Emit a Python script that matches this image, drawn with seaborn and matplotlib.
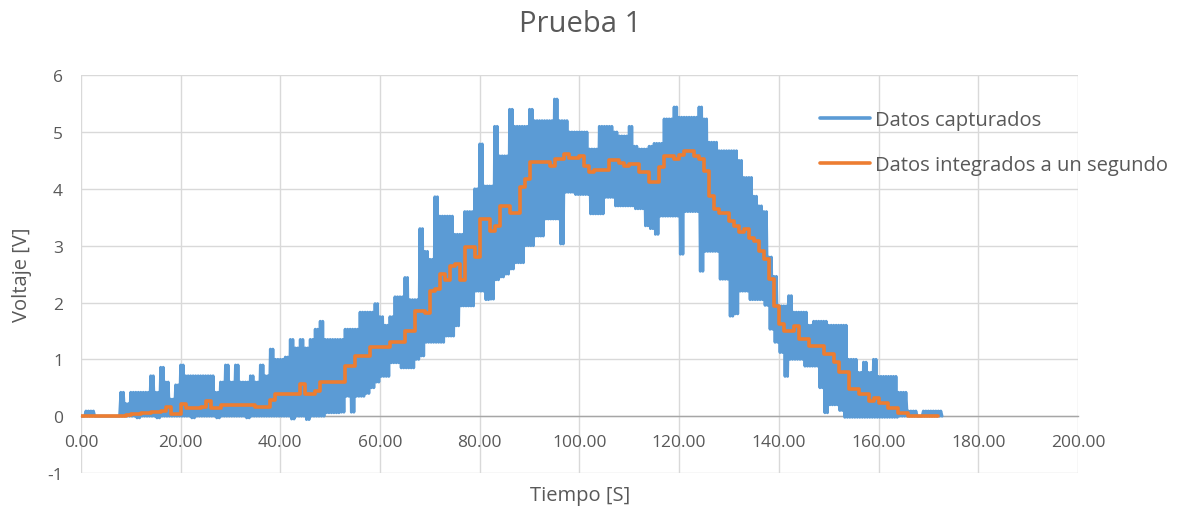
import numpy as np
import pandas as pd
import matplotlib.pyplot as plt
import seaborn as sns

# %% Data (one value per second, t = 0 .. 172)
# upper / lower extent of the captured signal in each second
blue_hi = [0.0, 0.09, 0.09, 0.0, 0.0, 0.0, 0.0, 0.0, 0.42, 0.22,
           0.42, 0.42, 0.42, 0.42, 0.71, 0.42, 0.86, 0.6, 0.3, 0.55,
           0.9, 0.71, 0.71, 0.71, 0.71, 0.71, 0.71, 0.42, 0.6, 0.9,
           0.6, 0.9, 0.6, 0.6, 0.71, 0.6, 0.9, 0.71, 1.18, 1.0,
           1.0, 1.04, 1.35, 1.2, 1.35, 1.2, 1.35, 1.53, 1.67, 1.35,
           1.35, 1.35, 1.35, 1.53, 1.53, 1.53, 1.83, 1.83, 1.83, 1.98,
           1.75, 1.6, 1.75, 2.1, 2.1, 2.44, 2.05, 2.05, 3.3, 2.9,
           2.76, 3.86, 3.52, 3.52, 3.52, 3.2, 3.2, 3.6, 3.6, 4.0,
           4.79, 4.05, 4.05, 5.1, 4.58, 4.58, 5.4, 5.1, 5.1, 5.1,
           5.4, 5.2, 5.2, 5.2, 5.2, 5.58, 5.2, 5.2, 5.0, 5.0,
           5.0, 5.0, 4.7, 4.7, 5.1, 5.1, 5.1, 5.0, 4.93, 4.93,
           5.1, 4.75, 4.7, 4.7, 4.75, 4.8, 4.8, 5.23, 5.23, 5.44,
           5.26, 5.26, 5.26, 5.26, 5.44, 5.23, 4.82, 4.82, 4.67, 4.67,
           4.67, 4.67, 4.5, 4.2, 4.2, 3.87, 3.7, 3.6, 2.8, 2.46,
           1.94, 1.94, 2.12, 1.83, 1.83, 1.83, 1.6, 1.67, 1.67, 1.67,
           1.6, 1.6, 1.6, 1.6, 1.0, 1.0, 0.77, 0.95, 0.77, 1.0,
           0.7, 0.7, 0.7, 0.7, 0.42, 0.42, 0.09, 0.09, 0.0, 0.09,
           0.09, 0.09, 0.09]
blue_lo = [0, 0, 0, 0, 0, 0, 0, 0, 0, 0,
           0, -0.03, 0, 0, 0, -0.03, 0, 0, 0, 0,
           0, 0, -0.03, 0, 0, 0, 0, -0.03, 0, 0,
           0, 0, 0, -0.03, 0, 0, 0, 0, 0, 0,
           0, 0, -0.05, 0, 0, -0.06, 0, 0, 0, 0.06,
           0.06, 0.06, 0.07, 0.35, 0.07, 0.35, 0.35, 0.4, 0.5, 0.6,
           0.7, 0.7, 0.94, 0.94, 0.85, 0.85, 0.85, 1.0, 1.06, 1.3,
           1.3, 1.3, 1.3, 1.41, 1.41, 1.59, 1.94, 1.94, 1.94, 2.2,
           2.2, 2.05, 2.06, 2.4, 2.45, 2.5, 2.59, 2.7, 2.7, 3.0,
           3.0, 3.17, 3.17, 3.47, 3.47, 3.47, 3.03, 3.94, 3.94, 3.9,
           3.9, 3.9, 3.56, 3.56, 3.56, 3.85, 3.85, 3.7, 3.7, 3.7,
           3.7, 3.65, 3.65, 3.35, 3.3, 3.2, 3.52, 3.52, 3.52, 3.52,
           2.85, 3.6, 3.6, 3.6, 2.55, 2.9, 2.9, 2.9, 2.41, 2.41,
           1.76, 1.8, 2.2, 2.2, 2.05, 2.05, 2.05, 1.95, 1.53, 1.3,
           1.12, 0.7, 1.0, 1.0, 1.0, 0.88, 0.88, 0.88, 0.5, 0.06,
           0.2, 0.2, 0.1, -0.02, -0.02, -0.02, -0.02, -0.02, -0.02, -0.02,
           -0.02, -0.02, -0.02, -0.02, 0, 0, 0, 0, 0, 0,
           0, 0, 0]
# one-second integrated values
orange = [0, 0, 0, 0, 0, 0, 0, 0, 0.01, 0.02,
          0.03, 0.04, 0.05, 0.06, 0.07, 0.08, 0.09, 0.16, 0.04, 0.04,
          0.21, 0.14, 0.14, 0.15, 0.16, 0.26, 0.14, 0.14, 0.19, 0.19,
          0.19, 0.2, 0.2, 0.2, 0.2, 0.16, 0.16, 0.16, 0.29, 0.39,
          0.39, 0.39, 0.39, 0.39, 0.57, 0.39, 0.39, 0.45, 0.6, 0.6,
          0.6, 0.6, 0.6, 0.88, 0.88, 1.06, 1.06, 1.06, 1.21, 1.21,
          1.21, 1.21, 1.3, 1.3, 1.3, 1.5, 1.5, 1.85, 1.85, 1.82,
          2.2, 2.24, 2.5, 2.4, 2.65, 2.68, 2.4, 2.98, 2.98, 2.8,
          3.47, 3.47, 3.26, 3.35, 3.7, 3.7, 3.58, 3.58, 4.03, 4.17,
          4.47, 4.47, 4.47, 4.47, 4.4, 4.52, 4.52, 4.62, 4.55, 4.55,
          4.58, 4.4, 4.29, 4.33, 4.33, 4.33, 4.5, 4.5, 4.45, 4.4,
          4.44, 4.44, 4.29, 4.29, 4.12, 4.12, 4.38, 4.58, 4.58, 4.52,
          4.6, 4.66, 4.66, 4.58, 4.52, 4.32, 3.87, 3.64, 3.58, 3.58,
          3.43, 3.35, 3.24, 3.3, 3.14, 3.08, 2.9, 2.76, 2.41, 1.94,
          1.62, 1.5, 1.5, 1.58, 1.36, 1.36, 1.24, 1.24, 1.24, 1.09,
          1.09, 0.95, 0.77, 0.77, 0.48, 0.48, 0.39, 0.39, 0.27, 0.32,
          0.24, 0.24, 0.15, 0.15, 0.06, 0.06, 0, 0, 0, 0,
          0, 0, 0]

x_ticks = [0, 20, 40, 60, 80, 100, 120, 140, 160, 180, 200]
y_ticks = [-1, 0, 1, 2, 3, 4, 5, 6]

# %% Build tables
# captured signal: 4 samples per second alternating between the top and bottom of the band
cap_v = []
for hi, lo in zip(blue_hi, blue_lo):
    cap_v += [hi, lo, hi, lo]
captured = pd.DataFrame({'t': np.arange(len(cap_v)) * 0.25, 'v': cap_v})
integ = pd.DataFrame({'t': np.arange(len(orange)), 'v': orange})

# %% Plot
sns.set_style('white')
plt.rcParams['font.family'] = ['Open Sans', 'DejaVu Sans']
plt.rcParams['axes.unicode_minus'] = False
grey = '#595959'

fig = plt.figure(figsize=(11.77, 5.10), dpi=100)
ax = fig.add_axes([0.0688, 0.0706, 0.847, 0.780])

sns.lineplot(data=captured, x='t', y='v', ax=ax, color='#5B9BD5', linewidth=2.1,
             estimator=None, sort=False, label='Datos capturados', zorder=2)
sns.lineplot(data=integ, x='t', y='v', ax=ax, color='#ED7D31', linewidth=2.6,
             estimator=None, sort=False, drawstyle='steps-post',
             label='Datos integrados a un segundo', zorder=3)

ax.set_xlim(0, 200)
ax.set_ylim(-1, 6)
ax.set_xticks(x_ticks)
ax.set_xticklabels([f'{v:.2f}' for v in x_ticks])
ax.set_yticks(y_ticks)
ax.grid(True, color='#D9D9D9', linewidth=1)
ax.set_axisbelow(True)
for s in ['top', 'right', 'left']:
    ax.spines[s].set_visible(False)
ax.spines['bottom'].set_position(('data', 0))
ax.spines['bottom'].set_color('#A6A6A6')
ax.spines['bottom'].set_linewidth(1)
ax.spines['bottom'].set_zorder(1)
ax.tick_params(axis='x', length=0, pad=13, colors=grey, labelsize=12.5)
ax.tick_params(axis='y', length=0, pad=13, colors=grey, labelsize=12.5)
ax.set_xlabel('')
ax.set_ylabel('')

fig.text(580 / 1177, 1 - 25 / 510, 'Prueba 1', ha='center', va='center', fontsize=21, color=grey)
fig.text(22 / 1177, 1 - 275 / 510, 'Voltaje [V]', rotation=90, ha='center', va='center',
         fontsize=14.5, color=grey)
fig.text(580 / 1177, 1 - 496 / 510, 'Tiempo [S]', ha='center', va='center', fontsize=14.5, color=grey)

leg = ax.legend(loc='upper left', bbox_to_anchor=(820 / 1177, 1 - 111 / 510),
                bbox_transform=fig.transFigure, frameon=False, fontsize=14.5,
                handlelength=2.5, handletextpad=0.25, labelspacing=1.24,
                borderpad=0, borderaxespad=0)
for line in leg.get_lines():
    line.set_linewidth(2.6)
for text in leg.get_texts():
    text.set_color(grey)

fig.savefig('out.png', dpi=100)
